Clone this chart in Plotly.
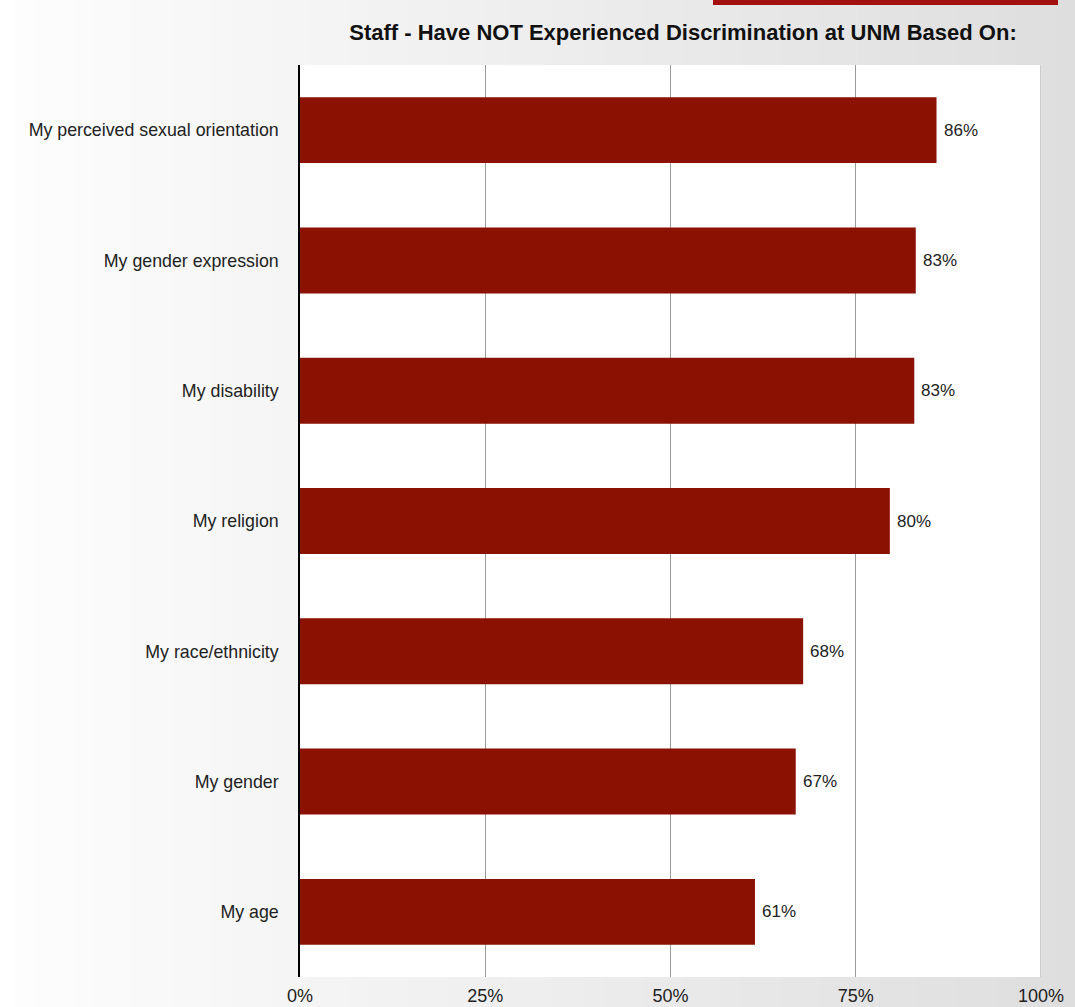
import plotly.graph_objects as go

categories = [
    "My perceived sexual orientation",
    "My gender expression",
    "My disability",
    "My religion",
    "My race/ethnicity",
    "My gender",
    "My age",
]
values = [85.9, 83.1, 82.9, 79.6, 67.9, 66.9, 61.4]
labels = ["86%", "83%", "83%", "80%", "68%", "67%", "61%"]
tick_vals = [0, 25, 50, 75, 100]
tick_text = ["0%", "25%", "50%", "75%", "100%"]

W, H = 1075, 1007
L, R, T, B = 300, 34, 65, 30
PW, PH = W - L - R, H - T - B
FONT = "Liberation Sans, Arial, Helvetica, sans-serif"

fig = go.Figure()
fig.add_trace(go.Bar(
    x=values,
    y=categories,
    orientation="h",
    width=0.506,
    marker=dict(color="#8b1103", line=dict(width=0)),
    hoverinfo="skip",
))

# value labels just right of each bar end
for cat, v, lab in zip(categories, values, labels):
    fig.add_annotation(x=v, y=cat, xref="x", yref="y", text=lab,
                       showarrow=False, xanchor="left", yanchor="middle",
                       xshift=5, font=dict(family=FONT, size=17, color="#222222"))

fig.update_layout(
    width=W,
    height=H,
    margin=dict(l=L, r=R, t=T, b=B, autoexpand=False),
    paper_bgcolor="#ffffff",
    plot_bgcolor="rgba(0,0,0,0)",
    showlegend=False,
    title=dict(
        text="<b>Staff - Have NOT Experienced Discrimination at UNM Based On:</b>",
        x=683 / W,
        xanchor="center",
        y=1 - 32 / H,
        yanchor="middle",
        font=dict(family=FONT, size=22, color="#111111"),
    ),
)

fig.update_xaxes(
    range=[0, 100],
    tickvals=tick_vals,
    ticktext=tick_text,
    showgrid=True,
    gridcolor="#9a9a9a",
    gridwidth=1,
    zeroline=False,
    showline=False,
    ticks="",
    automargin=False,
    ticklabelstandoff=6,
    tickfont=dict(family=FONT, size=18, color="#222222"),
    fixedrange=True,
)

fig.update_yaxes(
    categoryorder="array",
    categoryarray=categories,
    autorange="reversed",
    showgrid=False,
    showline=True,
    linecolor="#000000",
    linewidth=1.5,
    ticks="",
    automargin=False,
    ticklabelstandoff=16,
    tickfont=dict(family=FONT, size=17.8, color="#222222"),
    fixedrange=True,
)

# background gradient (white at left to light grey at right)
n = 54
x_start, x_end = 15, W
for i in range(n):
    px0 = x_start + (x_end - x_start) * i / n
    px1 = x_start + (x_end - x_start) * (i + 1) / n + 1
    g = int(round(253 - (253 - 222) * (i + 0.5) / n))
    fig.add_shape(type="rect", xref="paper", yref="paper", layer="below",
                  x0=(px0 - L) / PW, x1=(px1 - L) / PW,
                  y0=-B / PH, y1=1 + T / PH,
                  fillcolor=f"rgb({g},{g},{g})", line=dict(width=0))

# white plot area
fig.add_shape(type="rect", xref="paper", yref="paper", layer="below",
              x0=0, x1=1, y0=0, y1=1,
              fillcolor="#ffffff", line=dict(width=0))

# right border line at 100%
fig.add_shape(type="line", xref="x", yref="paper", layer="below",
              x0=100, x1=100, y0=0, y1=1,
              line=dict(color="#9a9a9a", width=1))

# red header strip at the top right
fig.add_shape(type="rect", xref="paper", yref="paper",
              x0=(713 - L) / PW, x1=(1058 - L) / PW,
              y0=1 + (T - 5) / PH, y1=1 + (T + 2) / PH,
              fillcolor="#a3100e", line=dict(width=0))

fig.write_html("out.html", config={"displayModeBar": False},
               post_script="document.body.style.margin='0';")
